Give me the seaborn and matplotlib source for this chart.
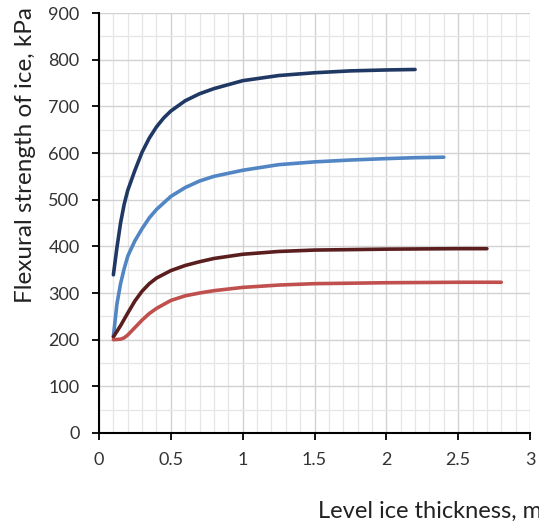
import pandas as pd
import matplotlib.pyplot as plt
import seaborn as sns

# values (thickness m -> strength kPa)
x_navy = [0.1, 0.125, 0.15, 0.175, 0.2, 0.25, 0.3, 0.35, 0.4, 0.45, 0.5, 0.6, 0.7, 0.8, 1.0, 1.25, 1.5, 1.75, 2.0, 2.2]
y_navy = [339, 398, 450, 490, 520, 563, 602, 632, 656, 675, 690, 712, 727, 738, 755, 766, 772, 776, 778, 779]

x_blue = [0.1, 0.125, 0.15, 0.175, 0.2, 0.25, 0.3, 0.35, 0.4, 0.5, 0.6, 0.7, 0.8, 1.0, 1.25, 1.5, 1.75, 2.0, 2.2, 2.4]
y_blue = [207, 277, 320, 352, 379, 412, 438, 461, 479, 507, 526, 540, 550, 563, 575, 581, 585, 588, 590, 591]

x_brown = [0.1, 0.15, 0.2, 0.25, 0.3, 0.35, 0.4, 0.5, 0.6, 0.7, 0.8, 1.0, 1.25, 1.5, 2.0, 2.5, 2.7]
y_brown = [206, 230, 257, 283, 304, 320, 332, 348, 359, 367, 374, 383, 389, 392, 394, 395, 395]

x_red = [0.1, 0.15, 0.175, 0.2, 0.25, 0.3, 0.35, 0.4, 0.5, 0.6, 0.7, 0.8, 1.0, 1.25, 1.5, 2.0, 2.5, 2.8]
y_red = [200, 201, 204, 210, 226, 242, 256, 267, 284, 294, 300, 305, 312, 317, 320, 322, 323, 323]

series_names = ['navy', 'blue', 'brown', 'red']
series_colors = ['#1F3864', '#5285C4', '#5B1E1E', '#C0504D']

x_ticks = [0, 0.5, 1, 1.5, 2, 2.5, 3]
x_tick_labels = ['0', '0.5', '1', '1.5', '2', '2.5', '3']
y_ticks = [0, 100, 200, 300, 400, 500, 600, 700, 800, 900]

frames = []
for name, xs, ys in zip(series_names, [x_navy, x_blue, x_brown, x_red], [y_navy, y_blue, y_brown, y_red]):
    frames.append(pd.DataFrame({'thickness': xs, 'strength': ys, 'series': name}))
df = pd.concat(frames, ignore_index=True)

sns.set_style("white")
plt.rcParams['font.family'] = ['Lato', 'DejaVu Sans']

fig = plt.figure(figsize=(5.39, 5.23), dpi=100)
ax = fig.add_axes([0.1837, 0.1721, 0.7996, 0.803])

sns.lineplot(data=df, x='thickness', y='strength', hue='series', hue_order=series_names,
             palette=series_colors, estimator=None, sort=False, linewidth=2.6,
             legend=False, ax=ax, zorder=3)

ax.set_xlim(0, 3)
ax.set_ylim(0, 900)
ax.set_xticks(x_ticks)
ax.set_xticklabels(x_tick_labels)
ax.set_yticks(y_ticks)
ax.set_xticks([i / 10 for i in range(31)], minor=True)
ax.set_yticks(list(range(0, 901, 50)), minor=True)

ax.grid(which='major', color='#D2D2D2', linewidth=1.0)
ax.grid(which='minor', color='#E6E6E6', linewidth=0.9)
ax.set_axisbelow(True)

for side in ['top', 'right']:
    ax.spines[side].set_visible(False)
for side in ['left', 'bottom']:
    ax.spines[side].set_color('black')
    ax.spines[side].set_linewidth(1.5)

ax.tick_params(axis='both', which='major', direction='out', length=5, width=1.3,
               color='black', labelsize=13, labelcolor='#333333', pad=9,
               left=True, bottom=True)
ax.tick_params(axis='both', which='minor', length=0)

ax.set_xlabel('')
ax.set_ylabel('')
fig.text(26 / 539, 1 - 155 / 523, 'Flexural strength of ice, kPa', rotation=90,
         ha='center', va='center', fontsize=17.5, color='#222222')
# the reference crops this label at the right edge
fig.text(318 / 539, 1 - 518 / 523, 'Level ice thickness, m', ha='left', va='baseline',
         fontsize=17, color='#222222')

fig.savefig('out.png', dpi=100)
